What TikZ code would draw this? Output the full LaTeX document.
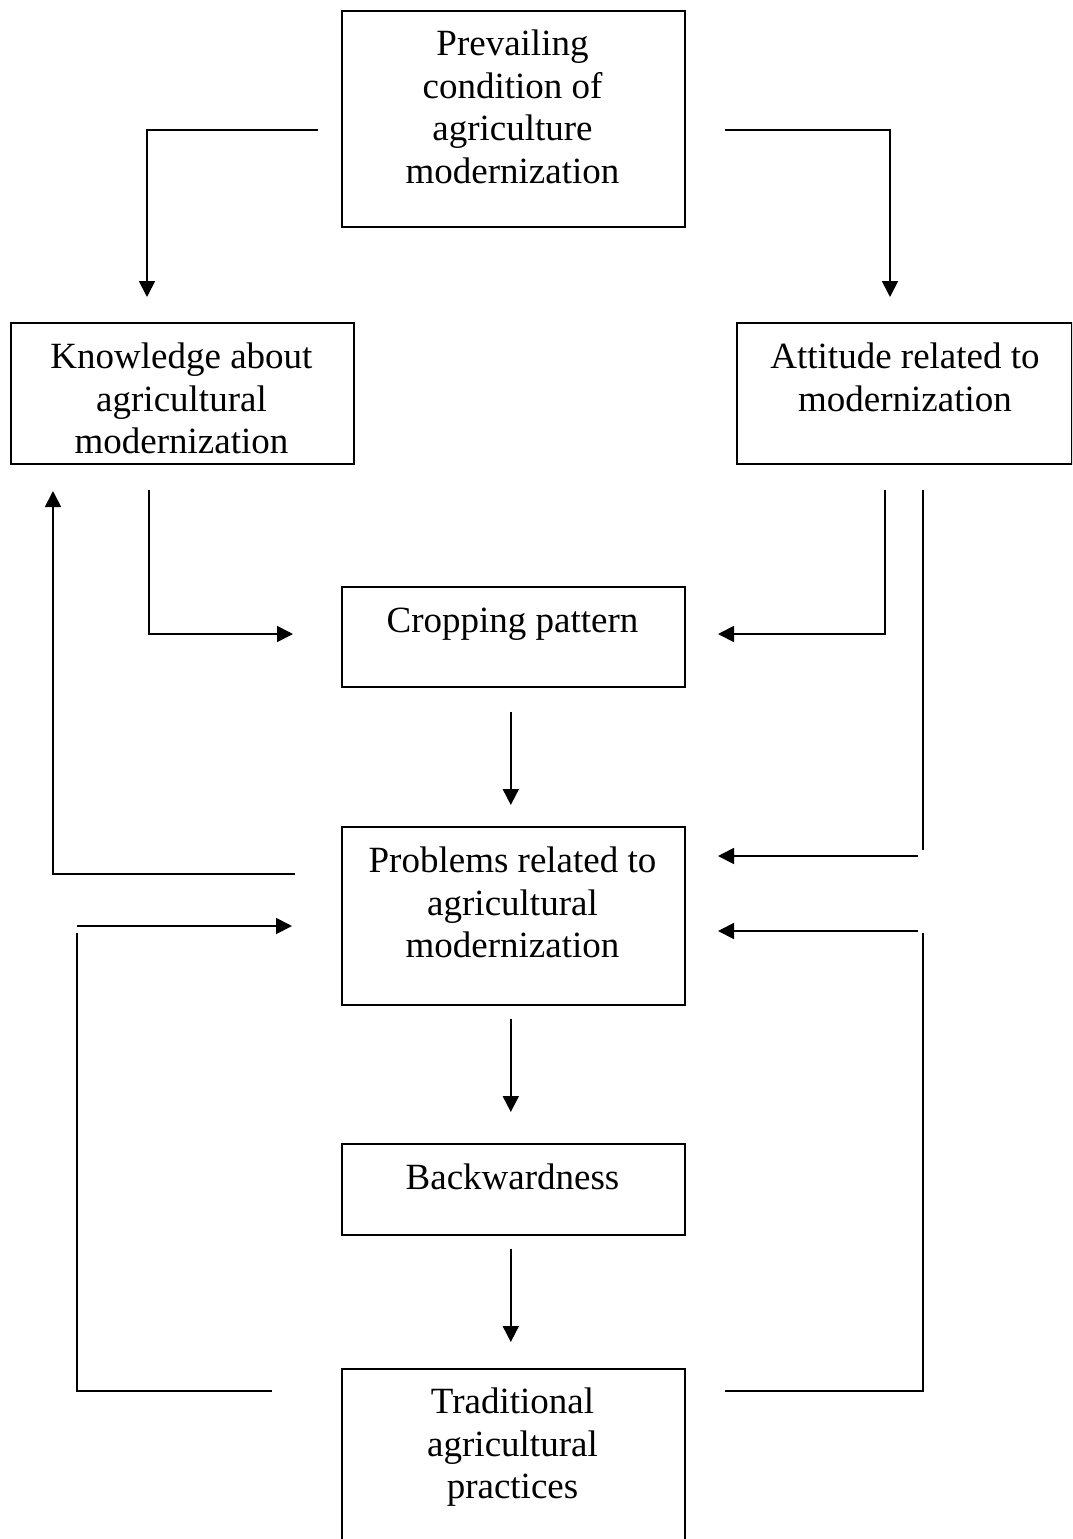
\documentclass[tikz,border=0pt]{standalone}
\usepackage{fontspec}
\setmainfont{Liberation Serif}
\usetikzlibrary{arrows.meta,calc}
\begin{document}
\begin{tikzpicture}[x=1pt,y=-1pt,
  box/.style={draw, line width=1.6pt, inner sep=0pt, anchor=north west},
  lbl/.style={anchor=north, inner sep=0pt, align=center, font=\fontsize{37}{42.7}\selectfont},
  conn/.style={line width=1.8pt},
  arr/.style={conn, -{Triangle[length=16pt,width=16pt]}}]
\useasboundingbox (0,0) rectangle (1072,1539);
\clip (0,0) rectangle (1072,1539);

% boxes
\node[box, minimum width=343pt, minimum height=216pt] (top)  at (341,10)   {};
\node[box, minimum width=343pt, minimum height=141pt] (know) at (10,322)   {};
\node[box, minimum width=335pt, minimum height=141pt] (att)  at (736,322)  {};
\node[box, minimum width=343pt, minimum height=100pt] (crop) at (341,586)  {};
\node[box, minimum width=343pt, minimum height=178pt] (prob) at (341,826)  {};
\node[box, minimum width=343pt, minimum height=91pt]  (back) at (341,1143) {};
\node[box, minimum width=343pt, minimum height=250pt] (trad) at (341,1368) {};

% texts
\node[lbl] (ttop)  at (512.5,29.7)   {Prevailing\\condition of\\agriculture\\modernization};
\node[lbl] (tknow) at (181.5,342.7)  {Knowledge about\\agricultural\\modernization};
\node[lbl] (tatt)  at (905,342.7)    {Attitude related to\\modernization};
\node[lbl] (tcrop) at (512.5,607.7)  {Cropping pattern};
\node[lbl] (tprob) at (512.5,846.7)  {Problems related to\\agricultural\\modernization};
\node[lbl] (tback) at (512.5,1163.7) {Backwardness};
\node[lbl] (ttrad) at (512.5,1387.7) {Traditional\\agricultural\\practices};

% free ends of connectors
\coordinate (a1) at (318,130);  \coordinate (b1) at (147,297);
\coordinate (a2) at (725,130);  \coordinate (b2) at (890,297);
\coordinate (a3) at (149,490);  \coordinate (b3) at (293,634);
\coordinate (a4) at (885,490);  \coordinate (b4) at (718,634);
\coordinate (a5) at (923,490);  \coordinate (m5) at (923,850);
\coordinate (c5) at (918,856);  \coordinate (b5) at (718,856);
\coordinate (a6) at (295,874);  \coordinate (b6) at (53,491);
\coordinate (a7) at (272,1391); \coordinate (m7) at (77,933);
\coordinate (c7) at (77,926);   \coordinate (b7) at (292,926);
\coordinate (a8) at (725,1391); \coordinate (m8) at (923,933);
\coordinate (c8) at (918,931);  \coordinate (b8) at (718,931);

% connectors
\draw[arr] (a1) -| (b1);
\draw[arr] (a2) -| (b2);
\draw[arr] (a3) |- (b3);
\draw[arr] (a4) |- (b4);
\draw[conn] (a5) -- (m5);
\draw[arr] (c5) -- (b5);
\draw[arr] (a6) -| (b6);
\draw[conn] (a7) -| (m7);
\draw[arr] (c7) -- (b7);
\draw[conn] (a8) -| (m8);
\draw[arr] (c8) -- (b8);

\draw[arr, shorten <=24pt, shorten >=21pt] ($(crop.south)+(-2.5,0)$) -- ($(prob.north)+(-2.5,0)$);
\draw[arr, shorten <=13pt, shorten >=31pt] ($(prob.south)+(-2.5,0)$) -- ($(back.north)+(-2.5,0)$);
\draw[arr, shorten <=13pt, shorten >=26pt] ($(back.south)+(-2.5,0)$) -- ($(trad.north)+(-2.5,0)$);
\end{tikzpicture}
\end{document}
